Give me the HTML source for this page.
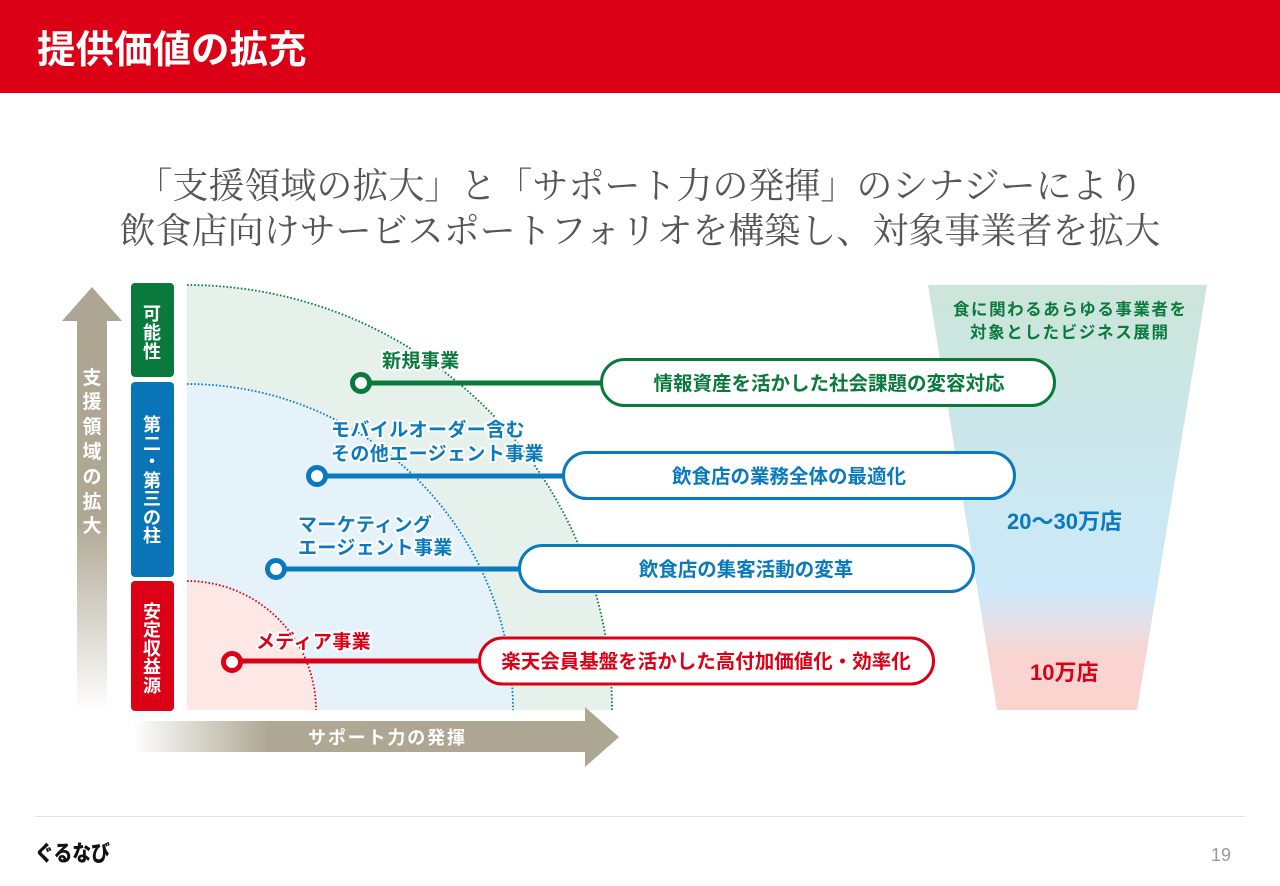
<!DOCTYPE html>
<html><head><meta charset="utf-8"><style>
html,body{margin:0;padding:0;background:#fff;}
svg{display:block;}
.s{font-family:"Liberation Sans","Noto Sans CJK JP",sans-serif;}
.m{font-family:"Liberation Serif","Noto Serif CJK SC",serif;}
.halo{paint-order:stroke;stroke:#fff;stroke-width:4px;stroke-linejoin:round;}
</style></head><body>
<svg width="1280" height="886" viewBox="0 0 1280 886" xmlns="http://www.w3.org/2000/svg">
<defs>
<linearGradient id="vg" x1="0" y1="285" x2="0" y2="712" gradientUnits="userSpaceOnUse">
<stop offset="0" stop-color="#ada692"/>
<stop offset="0.55" stop-color="#aea793"/>
<stop offset="1" stop-color="#ffffff"/>
</linearGradient>
<linearGradient id="hg" x1="132" y1="0" x2="620" y2="0" gradientUnits="userSpaceOnUse">
<stop offset="0" stop-color="#ffffff"/>
<stop offset="0.28" stop-color="#aea793"/>
<stop offset="1" stop-color="#ada692"/>
</linearGradient>
<linearGradient id="fg" x1="0" y1="285" x2="0" y2="710" gradientUnits="userSpaceOnUse">
<stop offset="0" stop-color="#cde5d9"/>
<stop offset="0.3" stop-color="#cbe6e8"/>
<stop offset="0.72" stop-color="#cce9fa"/>
<stop offset="0.8" stop-color="#e6dfe6"/>
<stop offset="0.87" stop-color="#f9d4d0"/>
<stop offset="1" stop-color="#fbd4cf"/>
</linearGradient>
</defs>

<!-- header -->
<rect x="0" y="0" width="1280" height="93" fill="#dc0016"/>
<text x="37" y="63" class="s" font-size="38.5" font-weight="700" fill="#fff">提供価値の拡充</text>

<!-- subtitle -->
<text x="640" y="198" class="m" font-size="36" fill="#555" text-anchor="middle">「支援領域の拡大」と「サポート力の発揮」のシナジーにより</text>
<text x="640" y="243" class="m" font-size="36" fill="#555" text-anchor="middle">飲食店向けサービスポートフォリオを構築し、対象事業者を拡大</text>

<!-- vertical arrow -->
<polygon points="92,287 122,321 107,321 107,711 77,711 77,321 62,321" fill="url(#vg)"/>
<g class="s" font-size="19" font-weight="700" fill="#fff" text-anchor="middle">
<text x="92" y="384">支</text>
<text x="92" y="408">援</text>
<text x="92" y="433">領</text>
<text x="92" y="458">域</text>
<text x="92" y="483">の</text>
<text x="92" y="508">拡</text>
<text x="92" y="532">大</text>
</g>

<!-- tabs -->
<rect x="131" y="283" width="43" height="94" rx="4" fill="#0a7a3c"/>
<rect x="131" y="382" width="43" height="195" rx="4" fill="#0a74b8"/>
<rect x="131" y="581" width="43" height="130" rx="4" fill="#dc0016"/>
<g class="s" font-size="18" font-weight="700" fill="#fff" text-anchor="middle">
<text x="152" y="320">可</text>
<text x="152" y="339">能</text>
<text x="152" y="358">性</text>
<text x="152" y="431">第</text>
<text x="152" y="450">二</text>
<text x="152" y="468">・</text>
<text x="152" y="487">第</text>
<text x="152" y="505">三</text>
<text x="152" y="524">の</text>
<text x="152" y="542">柱</text>
<text x="152" y="618">安</text>
<text x="152" y="636">定</text>
<text x="152" y="655">収</text>
<text x="152" y="673">益</text>
<text x="152" y="692">源</text>
</g>

<!-- quarter circles -->
<path d="M187,710 L187,285 A425,425 0 0 1 612,710 Z" fill="#e5f1ea"/>
<path d="M187,710 L187,384 A326,326 0 0 1 513,710 Z" fill="#e6f2f9"/>
<path d="M187,710 L187,581 A129,129 0 0 1 316,710 Z" fill="#fde8e6"/>
<path d="M187,285 A425,425 0 0 1 612,710" fill="none" stroke="#0a7a3c" stroke-width="1.8" stroke-dasharray="1.6 2"/>
<path d="M187,384 A326,326 0 0 1 513,710" fill="none" stroke="#0a79bd" stroke-width="1.8" stroke-dasharray="1.6 2"/>
<path d="M187,581 A129,129 0 0 1 316,710" fill="none" stroke="#dc0016" stroke-width="1.8" stroke-dasharray="1.6 2"/>

<!-- horizontal arrow -->
<polygon points="132,721 585,721 585,707 619,737 585,767 585,752 132,752" fill="url(#hg)"/>
<text x="308" y="744" class="s" font-size="18" font-weight="700" fill="#fff" textLength="157" lengthAdjust="spacing">サポート力の発揮</text>

<!-- funnel -->
<polygon points="928,285 1207,285 1137,710 997,710" fill="url(#fg)"/>
<text x="953" y="315" class="s" font-size="16.5" font-weight="700" fill="#0a7a3c" textLength="233" lengthAdjust="spacing">食に関わるあらゆる事業者を</text>
<text x="970" y="338" class="s" font-size="16.5" font-weight="700" fill="#0a7a3c" textLength="198" lengthAdjust="spacing">対象としたビジネス展開</text>
<text x="1007" y="529" class="s" font-size="22" font-weight="700" fill="#0a79bd">20〜30万店</text>
<text x="1030" y="680" class="s" font-size="22" font-weight="700" fill="#dc0016">10万店</text>

<!-- connector lines -->
<line x1="368" y1="383" x2="602" y2="383" stroke="#0a7a3c" stroke-width="5"/>
<line x1="324" y1="476" x2="564" y2="476" stroke="#0a79bd" stroke-width="5"/>
<line x1="283" y1="569" x2="520" y2="569" stroke="#0a79bd" stroke-width="5"/>
<line x1="239" y1="661" x2="480" y2="661" stroke="#dc0016" stroke-width="5"/>
<circle cx="361" cy="383" r="8.5" fill="#fff" stroke="#0a7a3c" stroke-width="5"/>
<circle cx="317" cy="476" r="8.5" fill="#fff" stroke="#0a79bd" stroke-width="5"/>
<circle cx="276" cy="569" r="8.5" fill="#fff" stroke="#0a79bd" stroke-width="5"/>
<circle cx="232" cy="662" r="8.5" fill="#fff" stroke="#dc0016" stroke-width="5"/>

<!-- labels -->
<g class="s halo" font-size="19" font-weight="700" style="letter-spacing:0.4px">
<text x="382" y="367" fill="#0a7a3c">新規事業</text>
<text x="331" y="436" fill="#0a79bd">モバイルオーダー含む</text>
<text x="331" y="460" fill="#0a79bd">その他エージェント事業</text>
<text x="298" y="531" fill="#0a79bd">マーケティング</text>
<text x="298" y="554" fill="#0a79bd">エージェント事業</text>
<text x="256" y="648" fill="#dc0016">メディア事業</text>
</g>

<!-- pills -->
<rect x="601.5" y="359.5" width="453" height="46" rx="23" fill="#fff" stroke="#0a7a3c" stroke-width="3"/>
<rect x="563.5" y="452.5" width="451" height="46" rx="23" fill="#fff" stroke="#0a79bd" stroke-width="3"/>
<rect x="519.5" y="545.5" width="454" height="46" rx="23" fill="#fff" stroke="#0a79bd" stroke-width="3"/>
<rect x="479.5" y="638" width="454" height="46" rx="23" fill="#fff" stroke="#dc0016" stroke-width="3"/>
<g class="s" font-size="19.5" font-weight="700" text-anchor="middle">
<text x="829" y="390" fill="#0a7a3c">情報資産を活かした社会課題の変容対応</text>
<text x="789" y="483" fill="#0a79bd">飲食店の業務全体の最適化</text>
<text x="746" y="576" fill="#0a79bd">飲食店の集客活動の変革</text>
<text x="706" y="668" fill="#dc0016">楽天会員基盤を活かした高付加価値化・効率化</text>
</g>

<!-- footer -->
<rect x="35" y="816" width="1210" height="1" fill="#e3e3e3"/>
<text x="35" y="861" class="s" font-size="22" font-weight="900" fill="#111" textLength="75" lengthAdjust="spacingAndGlyphs">ぐるなび</text>
<text x="1211" y="861" font-family="Liberation Sans, sans-serif" font-size="18" fill="#9a9a9a">19</text>
</svg>
</body></html>
